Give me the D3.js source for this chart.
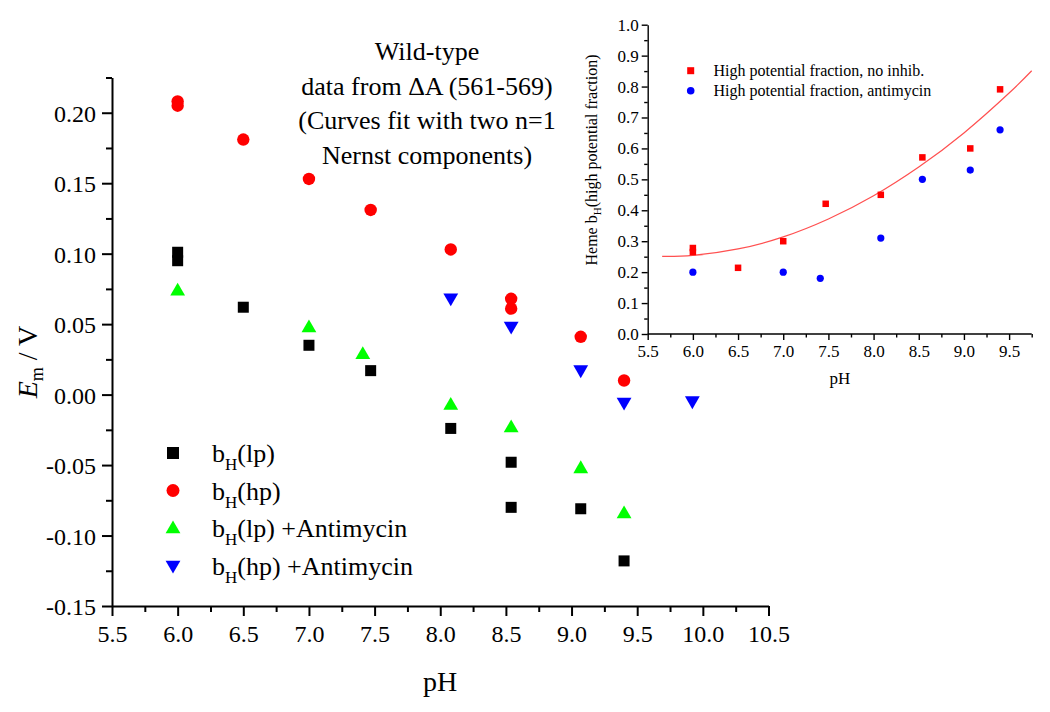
<!DOCTYPE html>
<html><head><meta charset="utf-8">
<script src="https://cdn.jsdelivr.net/npm/d3@7"></script>
<style>
html,body{margin:0;padding:0;background:#fff;}
svg text{font-family:"Liberation Serif","Times New Roman",serif !important;fill:#000;}
</style></head>
<body>
<svg id="c" width="1050" height="712"></svg>
<script>
// ---- main plot data ----
const lpPH   = [6.0, 6.0, 6.5, 7.0, 7.47, 8.08, 8.54, 8.54, 9.07, 9.40];
const lpE    = [0.101, 0.095, 0.062, 0.035, 0.017, -0.024, -0.048, -0.080, -0.081, -0.118];
const hpPH   = [6.0, 6.0, 6.5, 7.0, 7.47, 8.08, 8.54, 8.54, 9.07, 9.40];
const hpE    = [0.208, 0.205, 0.181, 0.153, 0.131, 0.103, 0.068, 0.061, 0.041, 0.010];
const lpAPH  = [6.0, 7.0, 7.41, 8.08, 8.54, 9.07, 9.40];
const lpAE   = [0.074, 0.048, 0.029, -0.007, -0.023, -0.052, -0.084];
const hpAPH  = [8.08, 8.54, 9.07, 9.40, 9.92];
const hpAE   = [0.068, 0.048, 0.017, -0.006, -0.005];
const xTicks = [5.5, 6.0, 6.5, 7.0, 7.5, 8.0, 8.5, 9.0, 9.5, 10.0, 10.5];
const yTicks = [-0.15, -0.10, -0.05, 0.00, 0.05, 0.10, 0.15, 0.20];
const legendLabels = [["(lp)", ""], ["(hp)", ""], ["(lp)", " +Antimycin"], ["(hp)", " +Antimycin"]];
const titleLines = ["Wild-type", "data from \u0394A (561-569)", "(Curves fit with two n=1", "Nernst components)"];

// ---- inset data ----
const fracPH   = [6.0, 6.0, 6.5, 7.0, 7.47, 8.08, 8.54, 9.07, 9.40];
const fracNo   = [0.265, 0.278, 0.214, 0.30, 0.421, 0.45, 0.571, 0.60, 0.791];
const fracAPH  = [6.0, 7.0, 7.41, 8.08, 8.54, 9.07, 9.40];
const fracA    = [0.20, 0.20, 0.18, 0.31, 0.50, 0.53, 0.66];
const fitPH    = [5.66, 6.0, 6.5, 7.0, 7.5, 8.0, 8.5, 9.0, 9.5, 9.75];
const fitVal   = [0.251, 0.254, 0.275, 0.314, 0.372, 0.447, 0.540, 0.650, 0.779, 0.851];
const insetXTicks = [5.5, 6.0, 6.5, 7.0, 7.5, 8.0, 8.5, 9.0, 9.5];
const insetYTicks = [0.0, 0.1, 0.2, 0.3, 0.4, 0.5, 0.6, 0.7, 0.8, 0.9, 1.0];
const insetLegend = ["High potential fraction, no inhib.", "High potential fraction, antimycin"];

const svg = d3.select("#c");
const hy = s => s.replace(/\u2212/g, "-");
const SERIF = "Liberation Serif";

// ================= MAIN =================
const x = d3.scaleLinear().domain([5.5, 10.5]).range([112, 768.5]);
const y = d3.scaleLinear().domain([-0.15, 0.225]).range([606, 77.5]);

const minorX = d3.range(5.75, 10.5, 0.5);
const minorY = d3.range(-0.125, 0.23, 0.05);

function styleAxis(g, w, fs) {
  g.attr("font-family", SERIF).attr("font-size", fs);
  g.selectAll("path.domain").attr("stroke", "#000").attr("stroke-width", w);
  g.selectAll(".tick line").attr("stroke", "#000").attr("stroke-width", w);
  g.selectAll(".tick text").attr("font-family", SERIF).style("font-family", SERIF)
    .attr("font-size", fs).attr("fill", "#000");
}

// minor ticks
const gxm = svg.append("g").attr("transform", "translate(0,606)")
  .call(d3.axisBottom(x).tickValues(minorX).tickSize(6).tickFormat("").tickSizeOuter(0));
styleAxis(gxm, 2, 24); gxm.select("path.domain").remove();
const gym = svg.append("g").attr("transform", "translate(112,0)")
  .call(d3.axisLeft(y).tickValues(minorY).tickSize(6).tickFormat("").tickSizeOuter(0));
styleAxis(gym, 2, 24); gym.select("path.domain").remove();

const gx = svg.append("g").attr("transform", "translate(0,606)")
  .call(d3.axisBottom(x).tickValues(xTicks).tickSize(10).tickPadding(9).tickSizeOuter(0).tickFormat(d3.format(".1f")));
styleAxis(gx, 2, 24);
const gy = svg.append("g").attr("transform", "translate(112,0)")
  .call(d3.axisLeft(y).tickValues(yTicks).tickSize(10).tickPadding(6).tickSizeOuter(0).tickFormat(d => hy(d3.format(".2f")(d))));
styleAxis(gy, 2, 24);
gy.selectAll(".tick text").attr("dy", "0.36em");

// axis titles
svg.append("text").attr("x", 440).attr("y", 691).attr("text-anchor", "middle")
  .attr("font-size", 28).text("pH");
const yl = svg.append("text").attr("transform", "translate(37,362) rotate(-90)")
  .attr("text-anchor", "middle").attr("font-size", 28);
yl.append("tspan").attr("font-style", "italic").text("E");
yl.append("tspan").attr("font-size", 18).attr("dy", 6).text("m");
yl.append("tspan").attr("dy", -6).text(" / V");

// markers
const tri = d3.symbol().type(d3.symbolTriangle).size(95);
function squares(g, px, py, xs, ys, s, col) {
  g.selectAll(null).data(xs.map((v, i) => [v, ys[i]])).join("rect")
    .attr("x", d => px(d[0]) - s / 2).attr("y", d => py(d[1]) - s / 2)
    .attr("width", s).attr("height", s).attr("fill", col);
}
function circles(g, px, py, xs, ys, r, col) {
  g.selectAll(null).data(xs.map((v, i) => [v, ys[i]])).join("circle")
    .attr("cx", d => px(d[0])).attr("cy", d => py(d[1])).attr("r", r).attr("fill", col);
}
const gm = svg.append("g");
squares(gm, x, y, lpPH, lpE, 11, "#000");
circles(gm, x, y, hpPH, hpE, 6.2, "#ff0000");
gm.selectAll(null).data(lpAPH.map((v, i) => [v, lpAE[i]])).join("path")
  .attr("d", tri).attr("fill", "#00ff00")
  .attr("transform", d => `translate(${x(d[0])},${y(d[1]) + 1})`);
gm.selectAll(null).data(hpAPH.map((v, i) => [v, hpAE[i]])).join("path")
  .attr("d", tri).attr("fill", "#0000ff")
  .attr("transform", d => `translate(${x(d[0])},${y(d[1]) - 1}) rotate(180)`);

// legend
const legY = [453, 490.5, 528, 566];
const lg = svg.append("g");
lg.append("rect").attr("x", 173 - 6).attr("y", legY[0] - 6).attr("width", 12).attr("height", 12).attr("fill", "#000");
lg.append("circle").attr("cx", 173).attr("cy", legY[1]).attr("r", 6.5).attr("fill", "#ff0000");
lg.append("path").attr("d", tri).attr("fill", "#00ff00").attr("transform", `translate(173,${legY[2] + 1})`);
lg.append("path").attr("d", tri).attr("fill", "#0000ff").attr("transform", `translate(173,${legY[3] - 1}) rotate(180)`);
legendLabels.forEach((lab, i) => {
  const t = lg.append("text").attr("x", 212).attr("y", legY[i] + 9).attr("font-size", 26);
  t.append("tspan").text("b");
  t.append("tspan").attr("font-size", 17).attr("dy", 8).text("H");
  t.append("tspan").attr("dy", -8).text(lab[0] + lab[1]);
});

// title
titleLines.forEach((s, i) => {
  svg.append("text").attr("x", 427).attr("y", 60 + i * 34.5).attr("text-anchor", "middle")
    .attr("font-size", 26).text(s);
});

// ================= INSET =================
const xi = d3.scaleLinear().domain([5.5, 9.75]).range([647.7, 1031.7]);
const yi = d3.scaleLinear().domain([0, 1]).range([334, 24.7]);
const iMinorX = d3.range(5.75, 9.8, 0.5);
const iMinorY = d3.range(0.05, 1.0, 0.1);

const gixm = svg.append("g").attr("transform", "translate(0,334)")
  .call(d3.axisBottom(xi).tickValues(iMinorX).tickSize(3.5).tickFormat("").tickSizeOuter(0));
styleAxis(gixm, 1.4, 17); gixm.select("path.domain").remove();
const giym = svg.append("g").attr("transform", "translate(647.7,0)")
  .call(d3.axisLeft(yi).tickValues(iMinorY).tickSize(3.5).tickFormat("").tickSizeOuter(0));
styleAxis(giym, 1.4, 17); giym.select("path.domain").remove();

const gix = svg.append("g").attr("transform", "translate(0,334)")
  .call(d3.axisBottom(xi).tickValues(insetXTicks).tickSize(6).tickPadding(5).tickSizeOuter(0).tickFormat(d3.format(".1f")));
styleAxis(gix, 1.4, 17);
const giy = svg.append("g").attr("transform", "translate(647.7,0)")
  .call(d3.axisLeft(yi).tickValues(insetYTicks).tickSize(6).tickPadding(3).tickSizeOuter(0).tickFormat(d3.format(".1f")));
styleAxis(giy, 1.4, 17);
gix.select("path.domain").attr("d", `M${xi(5.5)},0H${xi(9.75)}`);

svg.append("text").attr("x", 840).attr("y", 384).attr("text-anchor", "middle")
  .attr("font-size", 17).text("pH");
const iyl = svg.append("text").attr("transform", "translate(597,160) rotate(-90)")
  .attr("text-anchor", "middle").attr("font-size", 16);
iyl.append("tspan").text("Heme b");
iyl.append("tspan").attr("font-size", 11).attr("dy", 4).text("H");
iyl.append("tspan").attr("dy", -4).text("(high potential fraction)");

// fit curve
const line = d3.line().x((d, i) => xi(fitPH[i])).y(d => yi(d)).curve(d3.curveNatural);
svg.append("path").attr("d", line(fitVal)).attr("fill", "none")
  .attr("stroke", "#ff5050").attr("stroke-width", 1.2);

const gi = svg.append("g");
squares(gi, xi, yi, fracPH, fracNo, 6.5, "#ff0000");
circles(gi, xi, yi, fracAPH, fracA, 3.6, "#0000ff");

// inset legend
gi.append("rect").attr("x", 690.7 - 3.5).attr("y", 70.7 - 3.5).attr("width", 7).attr("height", 7).attr("fill", "#ff0000");
gi.append("circle").attr("cx", 690.7).attr("cy", 90.7).attr("r", 3.8).attr("fill", "#0000ff");
insetLegend.forEach((s, i) => {
  svg.append("text").attr("x", 713.5).attr("y", 76 + i * 20).attr("font-size", 16).text(s);
});
</script>
</body></html>
